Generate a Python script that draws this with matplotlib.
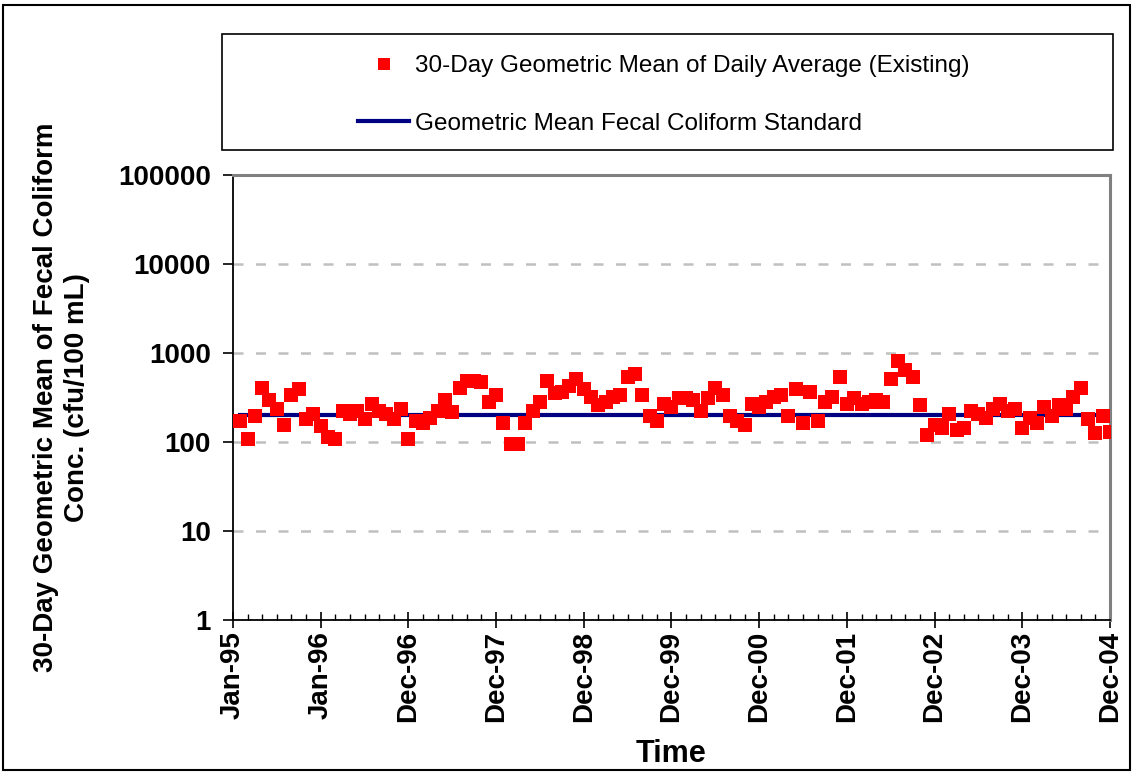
import numpy as np
import matplotlib.pyplot as plt
from matplotlib.patches import Rectangle

plt.rcParams['font.family'] = ['Liberation Sans', 'DejaVu Sans']

# monthly 30-day geometric means, Jan-95 .. Dec-04 (cfu/100 mL)
geo_mean = [
    172, 108, 196, 404, 296, 235, 155, 337, 394, 181,
    206, 151, 114, 108, 223, 206, 223, 181, 267, 223,
    206, 181, 235, 108, 172, 163, 186, 223, 296, 217,
    404, 484, 484, 472, 281, 337, 163, 95, 95, 163,
    223, 281, 484, 355, 365, 426, 510, 394, 320, 260,
    281, 320, 337, 537, 581, 337, 196, 172, 267, 247,
    312, 312, 296, 223, 312, 404, 337, 196, 172, 155,
    267, 247, 281, 320, 337, 196, 394, 163, 365, 172,
    281, 320, 537, 267, 312, 267, 281, 296, 281, 510,
    813, 644, 537, 260, 120, 155, 144, 206, 136, 144,
    223, 206, 186, 235, 267, 223, 235, 144, 186, 163,
    247, 196, 260, 235, 320, 404, 181, 126, 196, 130,
]
standard = 200
months = np.arange(1, len(geo_mean) + 1)
tick_labels = ['Jan-95', 'Jan-96', 'Dec-96', 'Dec-97', 'Dec-98', 'Dec-99',
               'Dec-00', 'Dec-01', 'Dec-02', 'Dec-03', 'Dec-04']
y_ticks = [1, 10, 100, 1000, 10000, 100000]

fig = plt.figure(figsize=(11.33, 7.72), dpi=100)
fig.patches.append(Rectangle((0.003, 0.003), 0.994, 0.991, transform=fig.transFigure,
                             fill=False, edgecolor='black', linewidth=1.5))
# legend box
fig.patches.append(Rectangle((0.196, 0.806), 0.786, 0.150, transform=fig.transFigure,
                             fill=False, edgecolor='black', linewidth=1.2))

ax = fig.add_axes([0.2056, 0.1969, 0.7741, 0.5764])
ax.set_yscale('log')
ax.set_ylim(1, 100000)
ax.set_xlim(0, 120)

line, = ax.plot(months, [standard] * len(months), color='#000080', linewidth=3, zorder=2,
                label='Geometric Mean Fecal Coliform Standard')
pts, = ax.plot(months, geo_mean, linestyle='none', marker='s', markersize=9.5,
               color='#ff0000', markeredgewidth=0, zorder=3,
               label='30-Day Geometric Mean of Daily Average (Existing)')

ax.set_yticks(y_ticks)
ax.set_yticklabels([str(v) for v in y_ticks], fontsize=20, fontweight='bold')
ax.yaxis.set_minor_locator(plt.NullLocator())
ax.tick_params(axis='y', which='major', direction='out', length=7, width=1.2, pad=9)

ax.set_xticks(np.linspace(0, 120, len(tick_labels)))
ax.set_xticklabels(tick_labels, rotation=90, fontsize=20, fontweight='bold')
ax.set_xticks(np.arange(0, 121, 2), minor=True)
ax.tick_params(axis='x', which='major', direction='inout', length=12, width=1.2, pad=2)
ax.tick_params(axis='x', which='minor', direction='in', length=4, width=1)

for v in y_ticks[1:-1]:
    ax.axhline(v, color='#c0c0c0', linewidth=1.8, linestyle=(0, (4, 5)), zorder=1)

for s in ['left', 'bottom']:
    ax.spines[s].set_color('black')
    ax.spines[s].set_linewidth(1.3)
for s in ['top', 'right']:
    ax.spines[s].set_color('#808080')
    ax.spines[s].set_linewidth(2.2)

ax.set_ylabel('30-Day Geometric Mean of Fecal Coliform\nConc. (cfu/100 mL)',
              fontsize=20, fontweight='bold', linespacing=1.25)
ax.yaxis.set_label_coords(-0.163, 0.5)
ax.set_xlabel('Time', fontsize=22, fontweight='bold', labelpad=12)

fig.legend([pts, line], [pts.get_label(), line.get_label()], loc='center left',
           bbox_to_anchor=(0.316, 0.877), frameon=False, fontsize=17.5,
           borderpad=0, borderaxespad=0, handlelength=2.1, handletextpad=0.25,
           labelspacing=1.45, markerscale=0.9)

plt.savefig('out.png', dpi=100)
